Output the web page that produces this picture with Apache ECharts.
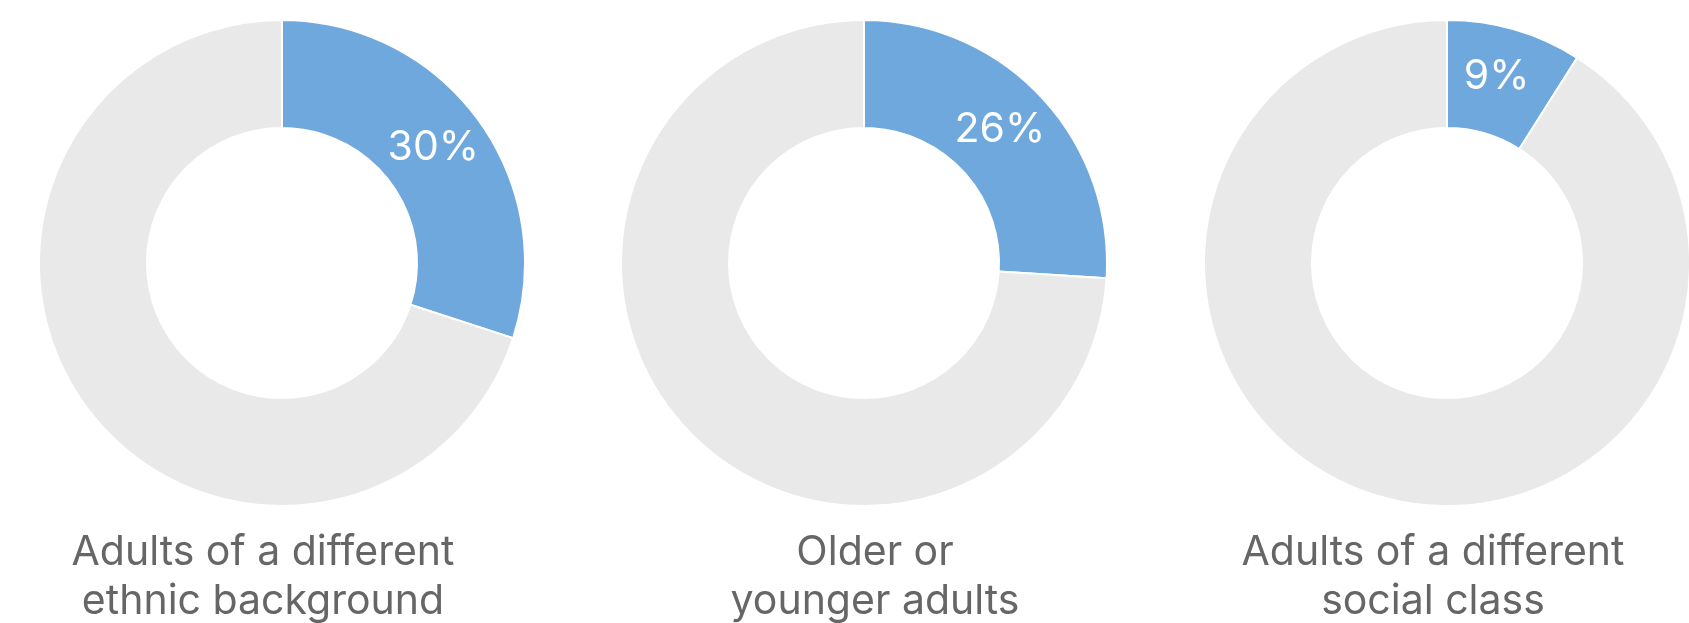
<!DOCTYPE html>
<html>
<head>
<meta charset="utf-8">
<script src="https://cdn.jsdelivr.net/npm/echarts@6/dist/echarts.min.js"></script>
<style>
  html, body { margin: 0; padding: 0; background: #fff; }
  #chart { width: 1689px; height: 623px; }
</style>
</head>
<body>
<div id="chart"></div>
<script>
// share of respondents (percent) for each group
const groups = ['Adults of a different\nethnic background', 'Older or\nyounger adults', 'Adults of a different\nsocial class'];
const shares = [30, 26, 9];

const centersX = [282, 864, 1447];
const titleX = [258, 870, 1428];

const chart = echarts.init(document.getElementById('chart'));

const series = shares.map((v, i) => ({
  type: 'pie',
  center: [centersX[i], 263],
  radius: [135, 243],
  startAngle: 90,
  clockwise: true,
  silent: true,
  avoidLabelOverlap: false,
  itemStyle: { borderColor: '#fff', borderWidth: 2 },
  label: {
    show: true,
    position: 'inside',
    color: '#fff',
    fontFamily: 'Inter',
    fontSize: 41,
    offset: [-4, -2],
    formatter: p => p.dataIndex === 0 ? p.value + '%' : ''
  },
  labelLine: { show: false },
  data: [
    { value: v, itemStyle: { color: '#6fa8dc' } },
    { value: 100 - v, itemStyle: { color: '#e9e9e9' } }
  ]
}));

const titles = groups.map((g, i) => ({
  text: g,
  left: titleX[i],
  top: 523,
  textAlign: 'center',
  textStyle: {
    color: '#666',
    fontFamily: 'Inter',
    fontWeight: 'normal',
    fontSize: 41,
    lineHeight: 49
  }
}));

chart.setOption({
  animation: false,
  title: titles,
  series: series
});
</script>
</body>
</html>
